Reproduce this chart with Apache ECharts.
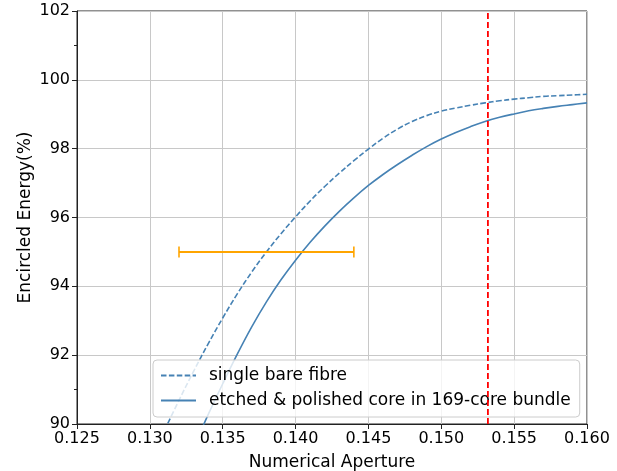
<!DOCTYPE html>
<html>
<head>
<meta charset="utf-8">
<script src="https://cdn.jsdelivr.net/npm/echarts@6/dist/echarts.min.js"></script>
<style>
html,body{margin:0;padding:0;background:#fff;}
#chart{width:617px;height:471px;}
</style>
</head>
<body>
<div id="chart"></div>
<script>
// Numerical aperture samples
const naSingle = [0.131, 0.132, 0.133, 0.134, 0.135, 0.136, 0.137, 0.138, 0.139, 0.140, 0.141, 0.142, 0.143, 0.144, 0.145, 0.146, 0.147, 0.148, 0.149, 0.150, 0.151, 0.152, 0.153, 0.154, 0.155, 0.156, 0.157, 0.158, 0.159, 0.160];
const eeSingle = [89.81, 90.69, 91.53, 92.33, 93.08, 93.78, 94.42, 95.0, 95.53, 96.02, 96.48, 96.90, 97.29, 97.65, 97.99, 98.30, 98.57, 98.79, 98.96, 99.09, 99.18, 99.26, 99.33, 99.39, 99.44, 99.48, 99.52, 99.54, 99.56, 99.58];
const naBundle = [0.133, 0.134, 0.135, 0.136, 0.137, 0.138, 0.139, 0.140, 0.141, 0.142, 0.143, 0.144, 0.145, 0.146, 0.147, 0.148, 0.149, 0.150, 0.151, 0.152, 0.153, 0.154, 0.155, 0.156, 0.157, 0.158, 0.159, 0.160];
const eeBundle = [89.32, 90.27, 91.17, 92.03, 92.83, 93.55, 94.19, 94.76, 95.28, 95.75, 96.18, 96.57, 96.93, 97.25, 97.54, 97.81, 98.06, 98.28, 98.47, 98.64, 98.79, 98.91, 99.01, 99.10, 99.17, 99.23, 99.28, 99.33];
const errBarNA = [0.132, 0.144];
const errBarEE = [95, 95];
const cutoffNA = 0.1532;
const cutoffEE = [90, 102];
const seriesNames = ['single bare fibre', 'etched & polished core in 169-core bundle'];
const xTitle = 'Numerical Aperture';
const yTitle = 'Encircled Energy(%)';

const FONT = 'DejaVu Sans';
const BLUE = '#4682b4';

const zip = (a, b) => a.map((v, i) => [v, b[i]]);

const chart = echarts.init(document.getElementById('chart'), null, {renderer: 'canvas'});
chart.setOption({
  animation: false,
  backgroundColor: '#ffffff',
  textStyle: {fontFamily: FONT},
  grid: {left: 77, top: 11, right: 30, bottom: 47, containLabel: false, outerBoundsMode: 'none',
    show: true, borderColor: '#222', borderWidth: 1, backgroundColor: 'transparent'},
  xAxis: {
    type: 'value', min: 0.125, max: 0.160, interval: 0.005,
    name: xTitle, nameLocation: 'middle', nameGap: 30, nameMoveOverlap: false,
    nameTextStyle: {fontFamily: FONT, fontSize: 17, color: '#000'},
    axisLine: {show: true, onZero: false, lineStyle: {color: '#222', width: 1}},
    axisTick: {show: true, length: 5, lineStyle: {color: '#222'}},
    axisLabel: {fontFamily: FONT, fontSize: 16, color: '#000', margin: 7,
      formatter: v => Number(v).toFixed(3)},
    splitLine: {show: true, lineStyle: {color: '#c8c8c8', width: 1}}
  },
  yAxis: [{
    type: 'value', min: 90, max: 102, interval: 2,
    name: yTitle, nameLocation: 'middle', nameGap: 43, nameMoveOverlap: false,
    nameTextStyle: {fontFamily: FONT, fontSize: 17, color: '#000'},
    axisLine: {show: true, onZero: false, lineStyle: {color: '#222', width: 1}},
    axisTick: {show: true, length: 5, lineStyle: {color: '#222'}},
    axisLabel: {fontFamily: FONT, fontSize: 16, color: '#000', margin: 7},
    splitLine: {show: true, lineStyle: {color: '#c8c8c8', width: 1}}
  }, {
    type: 'value', min: 90, max: 102, position: 'left',
    axisLine: {show: false},
    axisTick: {show: true, length: 3, customValues: [91, 101], lineStyle: {color: '#222'}},
    axisLabel: {show: false},
    splitLine: {show: false}
  }],
  legend: {
    data: seriesNames,
    orient: 'vertical', left: 153, top: 360,
    itemWidth: 35, itemHeight: 14, itemGap: 8,
    padding: [7, 9, 8, 7],
    backgroundColor: 'rgba(255,255,255,0.8)',
    borderColor: '#cccccc', borderWidth: 1, borderRadius: 4,
    itemStyle: {opacity: 0},
    textStyle: {fontFamily: FONT, fontSize: 17, color: '#000', padding: [0, 0, 0, 8]}
  },
  series: [
    {
      name: seriesNames[0], type: 'line', data: zip(naSingle, eeSingle),
      smooth: 0.4, showSymbol: false, symbol: 'none', clip: true,
      lineStyle: {color: BLUE, width: 1.6, type: [5.5, 2.4]},
      itemStyle: {color: BLUE}, z: 3
    },
    {
      name: seriesNames[1], type: 'line', data: zip(naBundle, eeBundle),
      smooth: 0.4, showSymbol: false, symbol: 'none', clip: true,
      lineStyle: {color: BLUE, width: 1.6, type: 'solid'},
      itemStyle: {color: BLUE}, z: 3
    },
    {
      name: 'cutoff', type: 'line', data: cutoffEE.map(v => [cutoffNA, v]),
      showSymbol: false, symbol: 'none', silent: true,
      lineStyle: {color: '#ff0000', width: 1.8, type: [6, 3]}, z: 4
    },
    {
      name: 'errorbar', type: 'line', data: zip(errBarNA, errBarEE),
      symbol: 'rect', symbolSize: [1.6, 11], showSymbol: true, silent: true,
      lineStyle: {color: '#ffa500', width: 2}, itemStyle: {color: '#ffa500'}, z: 4
    }
  ]
});
</script>
</body>
</html>
